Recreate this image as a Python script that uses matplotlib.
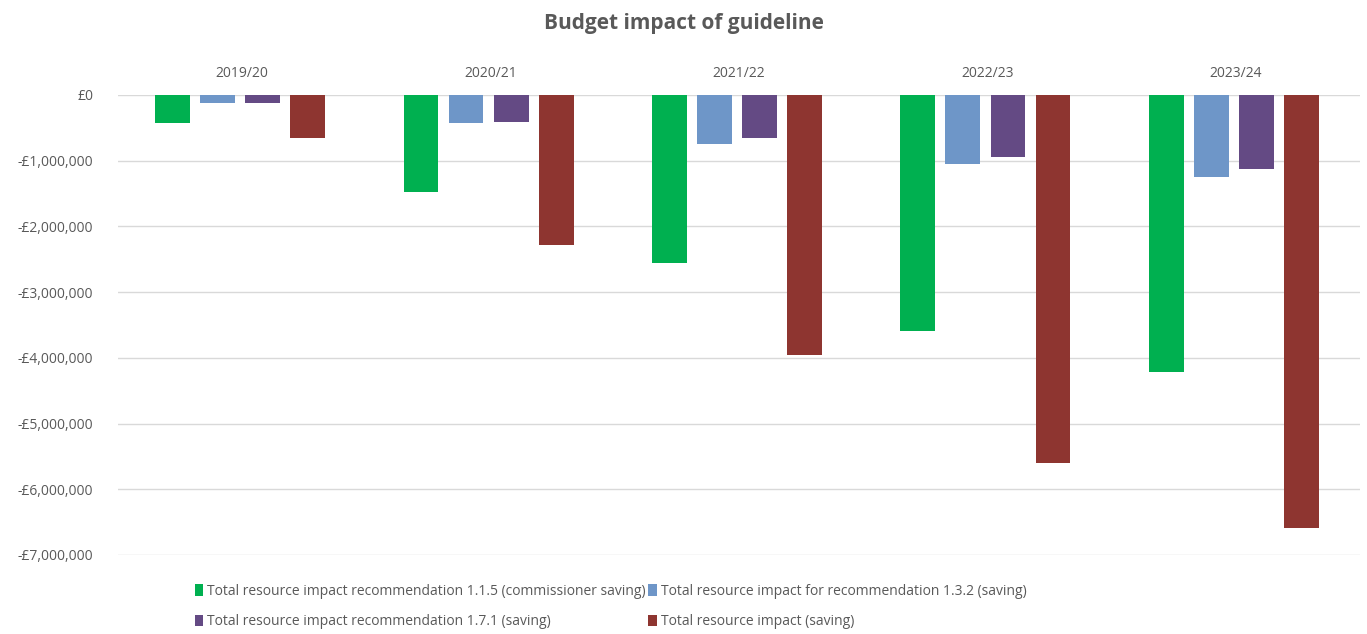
import matplotlib
matplotlib.use("Agg")
from matplotlib import pyplot as plt
from matplotlib.ticker import FuncFormatter
import numpy as np

plt.rcParams['font.family'] = ['Open Sans', 'DejaVu Sans']

# data (in pounds)
years = ["2019/20", "2020/21", "2021/22", "2022/23", "2023/24"]
rec_115 = [-430000, -1480000, -2550000, -3590000, -4220000]
rec_132 = [-127000, -430000, -750000, -1050000, -1250000]
rec_171 = [-127000, -410000, -660000, -940000, -1120000]
total = [-660000, -2290000, -3960000, -5600000, -6590000]

series_names = [
    "Total resource impact recommendation 1.1.5 (commissioner saving)",
    "Total resource impact for recommendation 1.3.2 (saving)",
    "Total resource impact recommendation 1.7.1 (saving)",
    "Total resource impact (saving)",
]
colours = ["#00B050", "#6E96C8", "#644A84", "#8E3530"]
grey = "#595959"

fig = plt.figure(figsize=(13.67, 6.34), dpi=100)
ax = fig.add_axes([118/1367, 79/634, (1360-118)/1367, 460/634])

x = np.arange(len(years))
w = 0.14
offs = [-0.272, -0.091, 0.091, 0.272]
all_series = [rec_115, rec_132, rec_171, total]
bars = []
for vals, off, c, name in zip(all_series, offs, colours, series_names):
    b = ax.bar(x + off - 0.008, vals, width=w, color=c, label=name, zorder=3)
    bars.append(b)

ax.set_xlim(-0.5, len(years) - 0.5)
ax.set_ylim(-7000000, 0)
ax.set_yticks(np.arange(-7000000, 1, 1000000))

def money(v, pos):
    if v == 0:
        return "£0"
    return "-£{:,.0f}".format(abs(v))
ax.yaxis.set_major_formatter(FuncFormatter(money))

ax.xaxis.tick_top()
ax.set_xticks(x)
ax.set_xticklabels(years)
ax.tick_params(axis='x', length=0, pad=10, labelsize=10, labelcolor=grey)
ax.tick_params(axis='y', length=0, pad=18, labelsize=10, labelcolor=grey)
ax.grid(axis='y', color="#D9D9D9", linewidth=1, zorder=0)
ax.set_clip_on(False)
for s in ax.spines.values():
    s.set_visible(False)

fig.suptitle("Budget impact of guideline", y=0.98, fontsize=15,
             fontweight='bold', color=grey)

# legend is filled row by row in the original
order = [0, 2, 1, 3]
fig.legend([bars[i] for i in order], [series_names[i] for i in order],
           loc='lower left', bbox_to_anchor=(182/1367, -0.012), ncol=2,
           frameon=False, fontsize=10, handlelength=0.6, handleheight=0.9,
           handletextpad=0.3, columnspacing=0.2, labelcolor=grey,
           labelspacing=1.1)

plt.savefig("out.png", dpi=100)
